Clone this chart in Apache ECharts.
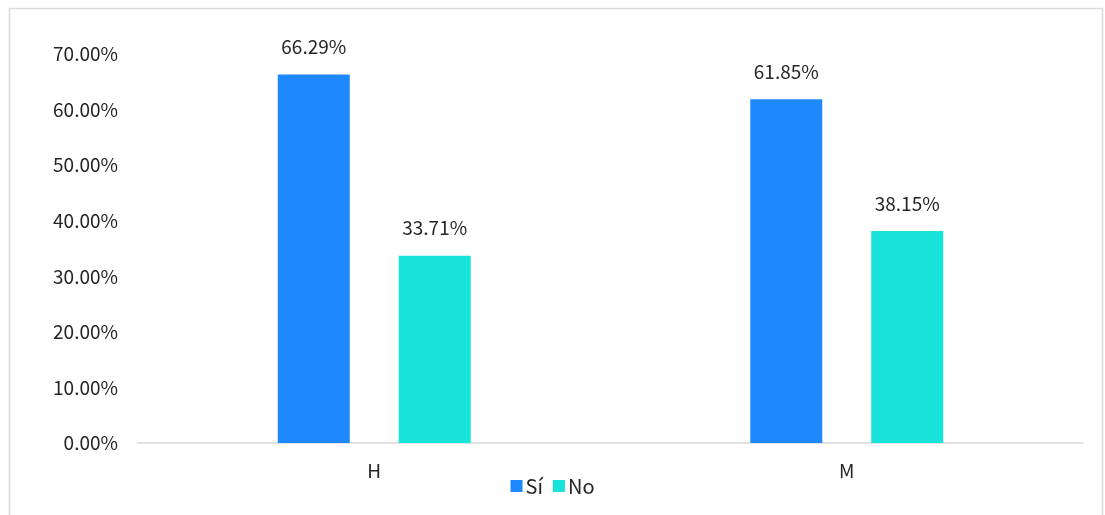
<!DOCTYPE html>
<html>
<head>
<meta charset="utf-8">
<script src="https://cdn.jsdelivr.net/npm/echarts@6/dist/echarts.min.js"></script>
<style>
html,body{margin:0;padding:0;background:#fff;}
#chart{width:1105px;height:515px;}
</style>
</head>
<body>
<div id="chart"></div>
<script>
var categories = ['H', 'M'];
var seriesNames = ['Sí', 'No'];
var siValues = [66.29, 61.85];
var noValues = [33.71, 38.15];
var yTicks = [0, 10, 20, 30, 40, 50, 60, 70];

var FONT = '"Noto Sans CJK SC", "Noto Sans", sans-serif';
var chart = echarts.init(document.getElementById('chart'), null, {renderer: 'canvas'});
var option = {
  animation: false,
  backgroundColor: '#ffffff',
  textStyle: {fontFamily: FONT},
  graphic: [{
    type: 'rect',
    shape: {x: 9.5, y: 8.5, width: 1093, height: 520},
    style: {fill: 'none', stroke: '#d9d9d9', lineWidth: 1.5},
    silent: true,
    z: -1
  }],
  legend: {
    data: seriesNames,
    bottom: 14,
    left: 'center',
    itemWidth: 12,
    itemHeight: 12,
    itemGap: 10,
    icon: 'rect',
    textStyle: {fontFamily: FONT, fontSize: 20, color: '#262626', padding: [0, 0, 0, -2]}
  },
  grid: {left: 138, right: 22, top: 54, bottom: 72, containLabel: false},
  xAxis: {
    type: 'category',
    data: categories,
    axisLine: {lineStyle: {color: '#d9d9d9', width: 1.5}},
    axisTick: {show: false},
    axisLabel: {fontFamily: FONT, fontSize: 19, color: '#262626', margin: 18}
  },
  yAxis: {
    type: 'value',
    min: yTicks[0],
    max: yTicks[yTicks.length - 1],
    interval: 10,
    splitLine: {show: false},
    axisLine: {show: false},
    axisTick: {show: false},
    axisLabel: {
      fontFamily: FONT, fontSize: 19, color: '#262626', margin: 20,
      formatter: function (v) { return v.toFixed(2) + '%'; }
    }
  },
  series: [{
    name: seriesNames[0],
    type: 'bar',
    data: siValues,
    barWidth: 72,
    barGap: '68%',
    itemStyle: {color: '#1E88FF'},
    label: {show: true, position: 'top', distance: 18, fontFamily: FONT, fontSize: 19, color: '#262626',
      formatter: function (p) { return p.value.toFixed(2) + '%'; }}
  }, {
    name: seriesNames[1],
    type: 'bar',
    data: noValues,
    barWidth: 72,
    barGap: '68%',
    itemStyle: {color: '#17E3DA'},
    label: {show: true, position: 'top', distance: 18, fontFamily: FONT, fontSize: 19, color: '#262626',
      formatter: function (p) { return p.value.toFixed(2) + '%'; }}
  }]
};
chart.setOption(option);
</script>
</body>
</html>
